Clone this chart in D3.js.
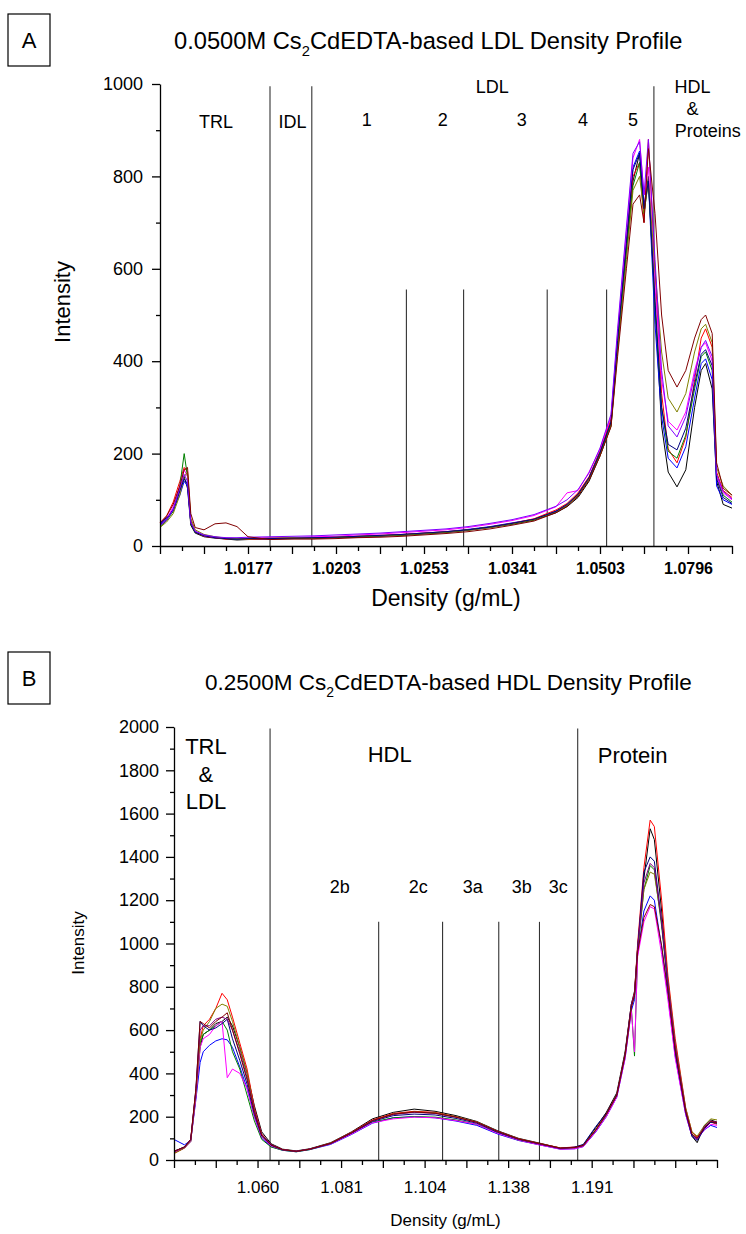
<!DOCTYPE html>
<html>
<head>
<meta charset="utf-8">
<script src="https://d3js.org/d3.v7.min.js"></script>
<style>
  body { margin: 0; background: #fff; }
  svg text { font-family: "Liberation Sans", Arial, sans-serif; fill: #000; }
  .axis path, .axis line { stroke: #000; stroke-width: 1.3; }
</style>
</head>
<body>
<script>

// ---------- Panel A : 0.0500M LDL profile ----------
var unitsA = [0, 0.3, 0.6, 0.9, 1.1, 1.25, 1.4, 1.6, 2, 2.5, 3, 3.5, 4, 5, 6, 7, 8, 9, 10, 11, 12, 13, 14, 15, 16, 17,
              18, 18.5, 19, 19.5, 20, 20.5, 20.8, 21.2, 21.5, 21.8, 22.0, 22.2, 22.5, 22.8, 23.1, 23.5, 23.9, 24.3,
              24.6, 24.8, 25.1, 25.3, 25.6, 26];
var blackA   = [48,62,75,120,150,125,45,28,20,17, 15,13,14,15,16,16,18,19,21,23, 26,29,34,40,47,56,72,85,105,140, 195,260,430,640,790,850,720,800,520,260, 160,128,165,300,380,395,340,140,90,82];
var blueA    = [48,60,80,110,140,130,50,30,22,18, 16,15,15,16,17,18,19,21,22,25, 28,31,36,42,50,58,76,90,112,148, 205,270,450,660,820,855,740,790,480,280, 190,169,215,320,395,405,360,130,100,90];
var redA     = [50,65,95,140,170,160,55,30,21,18, 15,16,14,16,17,18,19,21,23,25, 28,31,35,41,49,59,78,92,115,150, 205,275,440,650,800,830,700,880,600,330, 210,180,235,360,450,470,430,160,120,105];
var greenA   = [42,55,75,130,200,150,48,30,22,19, 16,15,16,17,16,18,19,20,22,24, 27,30,35,41,48,57,74,88,110,145, 200,265,435,640,780,830,720,790,520,300, 205,190,240,340,410,420,380,150,110,95];
var magentaA = [46,58,85,130,165,150,50,32,22,19, 17,16,17,18,18,20,21,24,26,29, 32,35,40,47,55,66,85,115,120,160, 210,280,460,680,840,880,760,820,560,360, 270,251,290,380,430,440,400,150,115,100];
var oliveA   = [40,52,70,110,150,160,60,35,25,20, 17,16,15,17,18,17,19,21,22,24, 27,30,34,40,48,57,74,88,110,145, 195,260,420,620,770,800,720,790,600,420, 320,290,330,420,470,480,440,170,130,110];
var navyA    = [45,58,78,120,145,135,50,30,22,18, 16,15,16,16,17,18,19,21,23,25, 28,31,35,41,49,58,75,90,112,148, 202,268,445,655,815,850,730,790,530,300, 220,208,255,350,415,425,390,145,105,92];
var violetA  = [44,56,78,125,155,140,52,32,24,20, 18,18,19,20,21,22,24,26,28,31, 34,37,42,49,57,68,86,100,122,158, 212,285,470,690,850,875,760,880,620,380, 260,236,280,370,430,445,410,155,118,102];
var wineA    = [50,65,90,130,165,170,70,40,35,48, 50,42,20,14,15,15,16,18,19,21, 24,27,31,37,45,54,72,86,108,142, 195,258,410,600,740,760,700,860,720,500, 380,344,380,450,490,500,460,180,125,110];
var tickLabelsA = ["1.0177", "1.0203", "1.0253", "1.0341", "1.0503", "1.0796"];
var tickUnitsA = [4, 8, 12, 16, 20, 24];
var fullLinesA = [5.0, 6.9, 22.45];
var shortLinesA = [11.2, 13.8, 17.6, 20.3];
var regionLabelsA = [
  {t: "TRL", u: 2.55, v: 905}, {t: "IDL", u: 6.02, v: 905},
  {t: "LDL", u: 15.1, v: 981},
  {t: "1", u: 9.4, v: 910}, {t: "2", u: 12.85, v: 910}, {t: "3", u: 16.44, v: 910},
  {t: "4", u: 19.23, v: 910}, {t: "5", u: 21.5, v: 910},
  {t: "HDL", u: 24.2, v: 981}, {t: "&", u: 24.2, v: 933}, {t: "Proteins", u: 24.9, v: 886}
];

// ---------- Panel B : 0.2500M HDL profile ----------
var unitsB = [0, 0.5, 0.8, 1.05, 1.25, 1.4, 1.7, 2.0, 2.3, 2.55, 2.8, 3.15, 3.5, 3.85, 4.2, 4.65, 5.2, 5.85, 6.5,
              7.5, 8.5, 9.5, 10.5, 11.5, 12.5, 13.5, 14.5, 15.5, 16.5, 17.5, 18.5, 19.2, 19.6, 20.2, 20.7, 21.2,
              21.6, 21.9, 22.05, 22.2, 22.5, 22.8, 23.0, 23.35, 23.65, 24.0, 24.5, 24.8, 25.05, 25.4, 25.7, 26];
var blackB   = [40,60,90,300,520,580,600,630,640,660, 620,520,400,250,130,75,50,42,52,80, 130,190,220,235,225,205,178,135,100,78, 55,58,70,150,220,310,500,720,780,980, 1300,1530,1480,1150,820,520,230,110,80,160, 185,175];
var redB     = [30,55,95,320,560,620,650,700,770,740, 660,540,420,240,120,70,48,40,50,78, 128,185,215,225,220,200,175,132,98,76, 56,60,68,140,215,300,490,720,770,1000, 1350,1570,1540,1200,850,560,240,130,105,150, 175,165];
var blueB    = [95,70,90,280,450,500,530,550,560,555, 520,430,330,200,100,62,45,38,48,72, 118,170,195,200,195,180,160,120,90,70, 50,52,62,130,200,290,470,690,740,950, 1150,1220,1200,980,760,480,210,110,100,140, 160,150];
var greenB   = [35,55,85,300,540,580,600,620,640,600, 500,420,300,180,95,60,45,38,48,75, 122,175,195,200,198,185,165,125,92,72, 52,55,64,135,205,295,480,700,480,960, 1250,1360,1340,1080,800,500,220,115,95,150, 175,170];
var magentaB = [35,55,85,290,520,560,580,620,640,380, 420,400,330,200,105,65,47,40,50,74, 120,172,190,198,195,182,165,123,92,70, 50,52,62,132,200,290,470,690,500,940, 1100,1170,1160,950,740,470,210,110,95,140, 165,160];
var oliveB   = [30,55,90,310,550,600,640,700,720,710, 640,520,400,230,115,70,48,40,50,78, 126,182,212,222,218,200,176,133,98,76, 55,58,68,140,212,300,490,710,760,980, 1250,1330,1320,1100,830,540,240,130,110,160, 190,185];
var navyB    = [40,60,95,330,640,620,600,610,630,650, 560,460,350,210,110,68,47,40,50,76, 124,178,205,212,208,192,170,128,95,74, 53,60,72,155,215,300,490,720,760,980, 1330,1400,1380,1100,800,500,220,110,90,145, 175,170];
var purpleB  = [38,58,92,320,600,620,620,650,660,650, 600,500,380,230,118,72,48,40,50,77, 126,182,210,220,215,198,174,132,97,75, 54,57,66,138,210,298,485,710,770,975, 1280,1370,1350,1100,820,530,230,120,100,155, 180,175];
var wineB    = [40,60,95,330,640,630,610,640,660,680, 600,490,370,220,115,70,48,40,50,77, 126,182,212,222,216,198,174,132,97,76, 55,58,68,140,212,300,485,705,760,960, 1120,1180,1170,990,780,510,225,120,100,150, 178,172];
var tickLabelsB = ["1.060", "1.081", "1.104", "1.138", "1.191"];
var tickUnitsB = [4, 8, 12, 16, 20];
var fullLinesB = [4.6, 19.33];
var shortLinesB = [9.8, 12.86, 15.55, 17.5];
var regionLabelsB = [
  {t: "TRL", u: 1.53, v: 1874}, {t: "&", u: 1.53, v: 1744}, {t: "LDL", u: 1.53, v: 1620},
  {t: "HDL", u: 10.33, v: 1837}, {t: "Protein", u: 21.96, v: 1832},
  {t: "2b", u: 7.94, v: 1232}, {t: "2c", u: 11.7, v: 1232}, {t: "3a", u: 14.3, v: 1232},
  {t: "3b", u: 16.65, v: 1232}, {t: "3c", u: 18.4, v: 1232}
];

var colorsA = ["#000000", "#0000ff", "#ff0000", "#008000", "#ff00ff", "#808000", "#000080", "#8000ff", "#800000"];
var colorsB = ["#000000", "#0000ff", "#ff0000", "#008000", "#ff00ff", "#808000", "#000080", "#800080", "#800000"];

var svg = d3.select("body").append("svg")
    .attr("width", 746)
    .attr("height", 1234);

function drawPanel(p) {
    var x = d3.scaleLinear().domain([0, 26]).range([p.left, p.right]);
    var y = d3.scaleLinear().domain([0, p.yMax]).range([p.bottom, p.top]);
    var g = svg.append("g");

    // letter box + title
    g.append("rect").attr("x", p.box[0]).attr("y", p.box[1]).attr("width", p.box[2]).attr("height", p.box[3])
        .attr("fill", "none").attr("stroke", "#000").attr("stroke-width", 1.2);
    g.append("text").attr("x", p.box[0] + p.box[2] / 2).attr("y", p.box[1] + p.box[3] / 2 + 8)
        .attr("text-anchor", "middle").style("font-size", "22px").text(p.letter);

    var title = g.append("text").attr("x", p.titleX).attr("y", p.titleY).style("font-size", p.titleSize + "px");
    title.append("tspan").text(p.title[0]);
    title.append("tspan").attr("dy", p.titleSize * 0.3).style("font-size", (p.titleSize * 0.62) + "px").text("2");
    title.append("tspan").attr("dy", -p.titleSize * 0.3).text(p.title[1]);

    // region dividers
    p.fullLines.concat(p.shortLines).forEach(function(u, i) {
        var top = i < p.fullLines.length ? p.fullTop : p.shortTop;
        g.append("line").attr("x1", x(u)).attr("x2", x(u)).attr("y1", y(0)).attr("y2", y(top))
            .attr("stroke", "#333").attr("stroke-width", 1.1);
    });

    // traces
    var line = d3.line()
        .x(function(d, i) { return x(p.units[i]); })
        .y(function(d) { return y(d); });
    g.selectAll(".trace")
        .data(p.series)
      .enter().append("path")
        .attr("class", "trace")
        .attr("d", line)
        .attr("fill", "none")
        .attr("stroke", function(d, i) { return p.colors[i]; })
        .attr("stroke-width", 1);

    // y axis (major + minor)
    g.append("g").attr("class", "axis").attr("transform", "translate(" + p.left + ",0)")
        .call(d3.axisLeft(y).tickValues(d3.range(0, p.yMax + 1, 200))
            .tickSize(8).tickSizeOuter(0).tickPadding(p.yPad).tickFormat(d3.format("d")))
        .call(function(a) { a.selectAll("text").style("font-size", p.yTickSize + "px").attr("fill", "#000"); });
    g.append("g").attr("class", "axis").attr("transform", "translate(" + p.left + ",0)")
        .call(d3.axisLeft(y).tickValues(d3.range(100, p.yMax, 200)).tickSize(4).tickFormat(""))
        .select(".domain").remove();

    // x axis: ticks every unit, labels on selected units
    var labelAt = new Map(p.tickUnits.map(function(u, i) { return [u, p.tickLabels[i]]; }));
    g.append("g").attr("class", "axis").attr("transform", "translate(0," + p.bottom + ")")
        .call(d3.axisBottom(x).tickValues(d3.range(0, 27, 2)).tickSize(8).tickSizeOuter(0).tickPadding(p.xPad)
            .tickFormat(function(d) { return labelAt.get(d) || ""; }))
        .call(function(a) {
            a.selectAll("text").style("font-size", p.xTickSize + "px")
                .style("font-weight", p.xTickBold ? "bold" : "normal").attr("fill", "#000");
        });
    g.append("g").attr("class", "axis").attr("transform", "translate(0," + p.bottom + ")")
        .call(d3.axisBottom(x).tickValues(d3.range(1, 26, 2)).tickSize(5).tickFormat(""))
        .select(".domain").remove();

    // axis titles
    g.append("text").attr("x", (p.left + p.right) / 2).attr("y", p.xTitleY)
        .attr("text-anchor", "middle").style("font-size", p.xTitleSize + "px").text("Density (g/mL)");
    g.append("text").attr("transform", "translate(" + p.yTitleX + "," + p.yTitleY + ") rotate(-90)")
        .attr("text-anchor", "middle").style("font-size", p.yTitleSize + "px").text("Intensity");

    // region labels
    g.selectAll(".region")
        .data(p.regions)
      .enter().append("text")
        .attr("class", "region")
        .attr("x", function(d) { return x(d.u); })
        .attr("y", function(d) { return y(d.v); })
        .attr("text-anchor", "middle")
        .style("font-size", function(d) { return p.regionSize(d) + "px"; })
        .text(function(d) { return d.t; });
}

drawPanel({
    letter: "A", box: [8, 14, 42, 52],
    title: ["0.0500M Cs", "CdEDTA-based LDL Density Profile"], titleX: 174, titleY: 49, titleSize: 23.7,
    left: 160, right: 732, top: 84, bottom: 546, yMax: 1000,
    units: unitsA,
    series: [blackA, blueA, redA, greenA, magentaA, oliveA, navyA, violetA, wineA],
    colors: colorsA,
    fullLines: fullLinesA, shortLines: shortLinesA, fullTop: 995, shortTop: 555,
    tickUnits: tickUnitsA, tickLabels: tickLabelsA,
    yPad: 9, yTickSize: 18, xPad: 9, xTickSize: 16, xTickBold: true,
    xTitleY: 606, xTitleSize: 23, yTitleX: 70, yTitleY: 302, yTitleSize: 22,
    regions: regionLabelsA, regionSize: function() { return 18; }
});

drawPanel({
    letter: "B", box: [8, 652, 42, 52],
    title: ["0.2500M Cs", "CdEDTA-based HDL Density Profile"], titleX: 205, titleY: 690, titleSize: 22.5,
    left: 174, right: 717, top: 727, bottom: 1160, yMax: 2000,
    units: unitsB,
    series: [blackB, blueB, redB, greenB, magentaB, oliveB, navyB, purpleB, wineB],
    colors: colorsB,
    fullLines: fullLinesB, shortLines: shortLinesB, fullTop: 1993, shortTop: 1100,
    tickUnits: tickUnitsB, tickLabels: tickLabelsB,
    yPad: 7, yTickSize: 18, xPad: 13, xTickSize: 17, xTickBold: false,
    xTitleY: 1226, xTitleSize: 17, yTitleX: 84, yTitleY: 943, yTitleSize: 17,
    regions: regionLabelsB,
    regionSize: function(d) { return d.t.length === 2 ? 18 : 22; }
});

</script>
</body>
</html>
